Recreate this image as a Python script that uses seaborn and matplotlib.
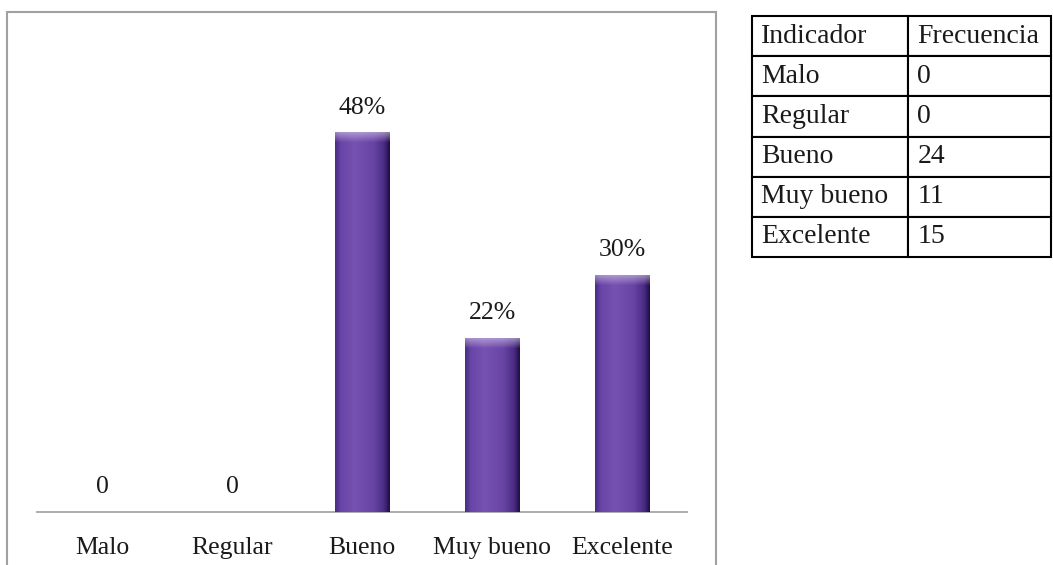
import numpy as np
import pandas as pd
import seaborn as sns
import matplotlib.pyplot as plt
from matplotlib.colors import LinearSegmentedColormap, to_rgb
from matplotlib.patches import Rectangle

categorias = ["Malo", "Regular", "Bueno", "Muy bueno", "Excelente"]
frecuencia = [0, 0, 24, 11, 15]
porcentaje = [0, 0, 48, 22, 30]
etiquetas = ["0", "0", "48%", "22%", "30%"]

df = pd.DataFrame({"Indicador": categorias, "Frecuencia": frecuencia, "Porcentaje": porcentaje})

sns.set_style("white")
plt.rcParams["font.family"] = ["Liberation Serif", "DejaVu Serif"]
fs = 18.5

fig = plt.figure(figsize=(10.53, 5.65), dpi=100)
ax = fig.add_axes([37 / 1053, 53 / 565, 650 / 1053, 474 / 565])

sns.barplot(data=df, x="Indicador", y="Porcentaje", color="#6a48a8", width=0.42, ax=ax, zorder=2)

# gradient fill over every bar (dark edges, lighter middle, bevel on top)
perfil = LinearSegmentedColormap.from_list(
    "barra", [(0, "#4a2d86"), (0.1, "#6845a6"), (0.35, "#7652b2"),
              (0.7, "#6845a5"), (0.9, "#4a2c85"), (1, "#210f48")])
brillo = np.array(to_rgb("#d2c2e6"))
for p in ax.patches:
    h = p.get_height()
    if h <= 0:
        continue
    x0, w = p.get_x(), p.get_width()
    filas = int(h * 8)
    cols = perfil(np.linspace(0, 1, 60))[:, :3]
    img = np.repeat(cols[None, :, :], filas, axis=0)
    for i in range(10):
        a = 0.6 * (1 - i / 10)
        img[i] = img[i] * (1 - a) + brillo * a
    p.set_visible(False)
    ax.imshow(img, extent=[x0, x0 + w, 0, h], aspect="auto", zorder=3, interpolation="bilinear")

for i, v in enumerate(porcentaje):
    ax.annotate(etiquetas[i], (i, v), xytext=(0, 10), textcoords="offset points",
                ha="center", va="bottom", fontsize=fs, color="#1a1a1a")

ax.set_xlim(-0.5, 4.5)
ax.set_ylim(0, 60)
ax.set_xlabel("")
ax.set_ylabel("")
ax.set_yticks([])
ax.tick_params(axis="x", length=0, pad=18, labelsize=fs, labelcolor="#1a1a1a")
sns.despine(ax=ax, left=True, top=True, right=True)
ax.spines["bottom"].set_color("#a6a6a6")
ax.spines["bottom"].set_linewidth(1.3)

# outer frame of the chart area
fig.patches.append(Rectangle((7 / 1053, -0.05), 709 / 1053, 1.05 - 12 / 565,
                             transform=fig.transFigure, fill=False,
                             edgecolor="#a0a0a0", linewidth=1.5))

# frequency table
tax = fig.add_axes([752 / 1053, (565 - 257) / 565, 299 / 1053, 241 / 565])
tax.axis("off")
filas_tabla = [[c, str(f)] for c, f in zip(categorias, frecuencia)]
tabla = tax.table(cellText=filas_tabla, colLabels=["Indicador", "Frecuencia"],
                  cellLoc="left", colLoc="left", bbox=[0, 0, 1, 1],
                  colWidths=[156 / 299, 143 / 299])
tabla.auto_set_font_size(False)
for (r, c), cell in tabla.get_celld().items():
    cell.set_edgecolor("black")
    cell.set_linewidth(1.5)
    cell.PAD = 0.06 if c == 0 else 0.065
    cell.get_text().set_fontsize(20)
    cell.get_text().set_color("#1a1a1a")

fig.savefig("out.png", dpi=100)
